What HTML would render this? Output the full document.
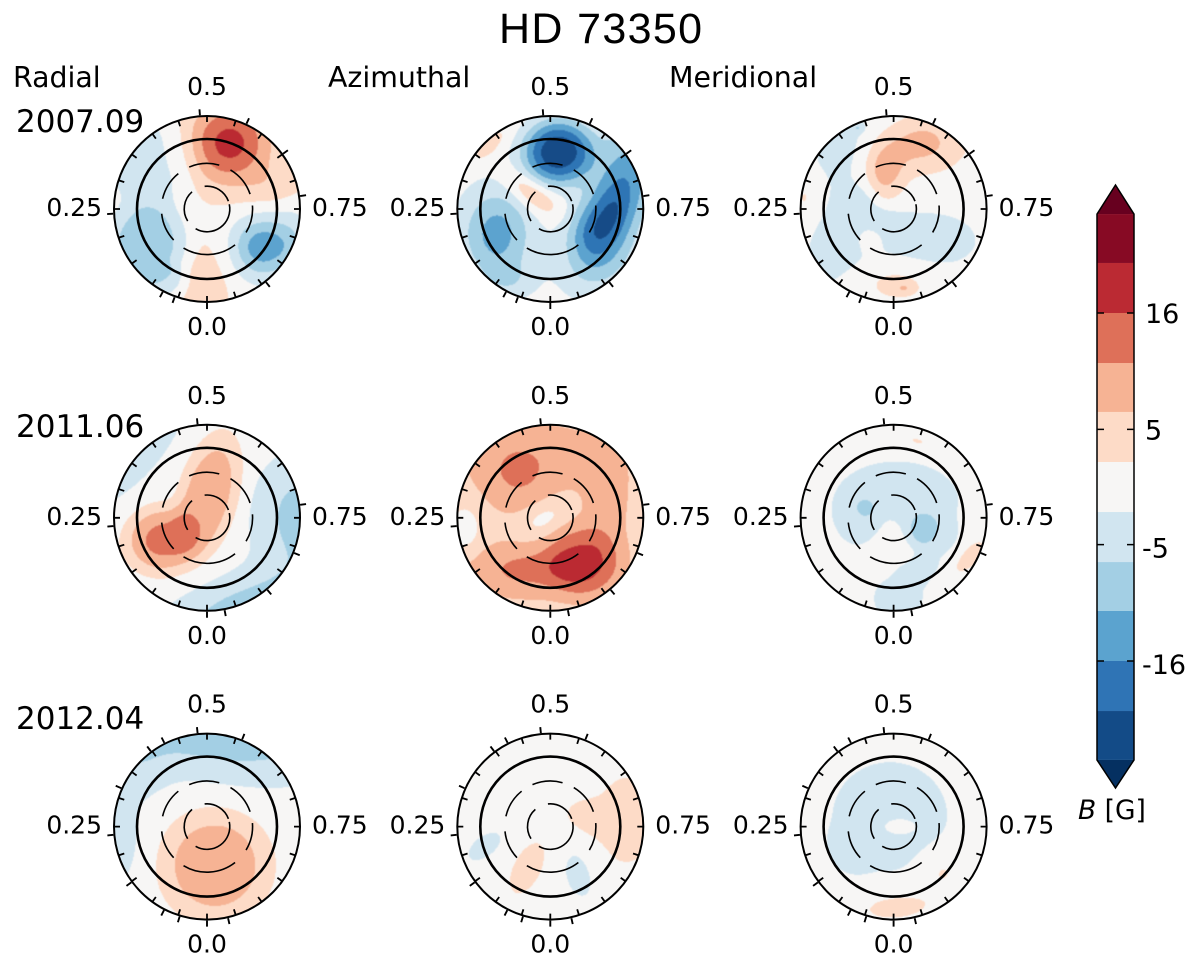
<!DOCTYPE html>
<html lang="en">
<head>
<meta charset="utf-8">
<title>HD 73350 magnetic maps</title>
<style>
html,body{margin:0;padding:0;background:#fff;}
svg{display:block;}
text{font-family:"DejaVu Sans","Liberation Sans",sans-serif;fill:#000;}
</style>
</head>
<body>
<svg id="chart" xmlns="http://www.w3.org/2000/svg" width="1200" height="978" viewBox="0 0 1200 978">
  <defs>
    <filter id="soften" x="-5%" y="-5%" width="110%" height="110%"><feGaussianBlur stdDeviation="0.6"/></filter>
  </defs>
  <rect width="1200" height="978" fill="#ffffff"/>
  <text x="499" y="43" font-size="43" textLength="203" lengthAdjust="spacing" style="font-family:'Liberation Sans',sans-serif">HD 73350</text>
  <text x="13" y="87" font-size="28.4">Radial</text>
  <text x="328" y="87" font-size="28.4">Azimuthal</text>
  <text x="669" y="87" font-size="28.4">Meridional</text>
  <text x="16" y="132" font-size="31">2007.09</text>
  <text x="16" y="437" font-size="31">2011.06</text>
  <text x="16" y="729" font-size="31">2012.04</text>
  <text x="1078" y="819" font-size="26.5"><tspan font-style="italic">B</tspan> [G]</text>
  <g id="panels"></g>
  <g id="colorbar"></g>
</svg>
<script>
// ---- data ----
// Contour levels of the field in gauss (ascending)
const fieldLevels = [-25.1, -20.6, -16, -11.4, -6.9, -2.3, 2.3, 6.9, 11.4, 16, 20.6, 25.1];
// Colour bar tick values and their printed labels
const colorbarTickValues = [16, 5.3, -5.3, -16];
const colorbarTickLabels = ['16', '5', '-5', '-16'];
// Phase axis labels
const phaseTickValues = [0.5, 0.25, 0.75, 0.0];
const phaseTickLabels = ['0.5', '0.25', '0.75', '0.0'];
// Observed rotation phases per epoch (outward ticks)
const obsPhases2007 = [0.488, 0.569, 0.65, 0.728, 0.892, 0, 0.056, 0.078, 0.242];
const obsPhases2011 = [0.484, 0.728, 0.811, 0.889, 0.97, 0, 0.236];
const obsPhases2012 = [0.484, 0.561, 0.425, 0.398, 0.317, 0.236, 0.149, 0.0756, 0.047, 0, 0.964];
// Field components as spots: [mapX, mapY, widthA, widthB, tiltDeg, gauss, sharpness]
// (map units: the rim of the disc is 280 from the pole)
const radial2007 = [
  [68,-198,127,127,0,18],[165,114,88,88,0,-14.5],[-180,104,120,120,0,-9,4],
  [-170,-136,135,155,0,-4,4],[-130,215,70,50,0,-4,4],[-2,250,80,180,0,5],[215,-70,100,60,-15,4],
  [255,95,55,90,0,-4]
];
const azimuthal2007 = [
  [24,-171,105,95,0,-24,2.6],[175,25,85,160,25,-21],[240,-170,100,120,0,-7.5],[170,170,130,110,0,-4],
  [-161,75,105,135,0,-13.5],[-181,-191,30,80,45,4],[-56,-46,40,92,-54,8],[95,60,60,70,0,-2.5],[-120,215,80,55,0,-4]
];
const meridional2007 = [
  [-111,-206,95,190,63,-3.5],[-109,-244,18,14,0,-5],[75,-200,125,85,0,9.2],[-30,-110,60,90,0,9.5],
  [-265,-35,45,70,0,3.5],[10,222,115,60,0,4.2],[31,238,25,15,0,4.5],[-165,85,105,190,18,-4],
  [105,95,190,110,0,-4],[-40,35,70,40,0,-3.5],[-90,-20,50,60,0,-3],[-75,80,40,50,0,3.5]
];
const radial2011 = [
  [6,-70,92,190,14,9,4],[-135,67,110,100,0,12.5,3],[-220,-190,92,270,42,-4],[284,-3,135,175,0,-9],[100,280,260,100,-20,-9]
];
const azimuthal2011 = [
  [0,0,900,900,0,5.5],[-40,-190,240,110,0,3.5],[170,-50,70,170,0,3.5],[-101,-125,100,100,0,5],
  [99,132,110,105,0,10,3],[-71,157,170,75,0,7.5],[-21,2,75,42,-30,-5],[-256,32,45,70,0,-6]
];
const meridional2011 = [
  [9,-53,215,135,0,-4,4],[-110,10,70,90,0,-2.5,4],[130,70,80,80,0,-2.6,4],[14,240,85,90,0,-4,4],[70,160,70,50,0,-3,4],
  [-15,80,55,90,0,3],[86,35,52,60,0,-4,4],[-84,-31,24,24,0,-3.5,4],[229,117,35,75,45,4],[71,-231,32,12,15,3]
];
const radial2012 = [
  [29,-310,350,140,10,-12],[-300,30,100,180,0,-5],[-210,-190,100,100,0,-4],[24,117,170,170,0,9,4]
];
const azimuthal2012 = [
  [229,-20,110,170,0,4],[109,-30,75,50,15,3.5],[-69,125,55,110,27,4],[-198,60,75,40,-37,-4],[86,145,52,92,-15,-4]
];
const meridional2012 = [
  [-11,-30,200,190,0,-4,4],[-130,70,80,85,0,-2.2,4],[140,130,70,70,0,3],[19,0,52,26,0,3.5],[9,243,108,40,-5,4]
];
const epochNames = ['2007', '2011', '2012'];
const componentNames = ['radial', 'azimuthal', 'meridional'];
const panelSpots = [
  [radial2007, azimuthal2007, meridional2007],
  [radial2011, azimuthal2011, meridional2011],
  [radial2012, azimuthal2012, meridional2012]
];
const panelObs = [obsPhases2007, obsPhases2011, obsPhases2012];

// ---- styling / layout ----
const bandColors = ['#053061','#134b87','#2f74b5','#5ba3cf','#a3cfe4','#d1e5f0','#f7f6f5','#fddbc7','#f6b394','#de7059','#bb2a33','#870a24','#67001f'];
const NS = 'http://www.w3.org/2000/svg';
const colX = i => 207 + i * 343.3;
const rowY = j => 209 + j * 308.8;
const RIM = 93;
const MAP_RIM = 280;
const COLAT_PX = RIM / 120;
const dashArcs60 = [[-23,15.6],[31,71],[85.6,121],[142,211],[227,264],[283,321]];
const dashArcs30 = [[-6,70],[78,210],[238,319]];

function mk(tag, attrs, parent) {
  const e = document.createElementNS(NS, tag);
  for (const k in attrs) e.setAttribute(k, attrs[k]);
  parent.appendChild(e);
  return e;
}
// phase axis: 0 at the bottom, running clockwise (0.25 left, 0.5 top, 0.75 right)
function phasePoint(cx, cy, phase, r) {
  const t = 2 * Math.PI * phase;
  return [cx - r * Math.sin(t), cy + r * Math.cos(t)];
}
function fieldAt(spots, u, v) {
  let sum = 0;
  for (const s of spots) {
    const rot = s[4] * Math.PI / 180;
    const c = Math.cos(rot), d = Math.sin(rot);
    const dx = u - s[0], dy = v - s[1];
    const a = (dx * c + dy * d) / s[2];
    const b = (-dx * d + dy * c) / s[3];
    const k = s[6] || 2;
    sum += s[5] * Math.exp(-Math.pow(a * a + b * b, k / 2));
  }
  return sum;
}
function bandOf(val) {
  let i = 0;
  while (i < fieldLevels.length && val >= fieldLevels[i]) i++;
  return i;
}
function arcPath(cx, cy, r, a0, a1) {
  const t0 = a0 * Math.PI / 180, t1 = a1 * Math.PI / 180;
  const large = (a1 - a0) > 180 ? 1 : 0;
  return 'M' + (cx + r * Math.sin(t0)).toFixed(2) + ' ' + (cy - r * Math.cos(t0)).toFixed(2) +
    'A' + r + ' ' + r + ' 0 ' + large + ' 1 ' + (cx + r * Math.sin(t1)).toFixed(2) + ' ' + (cy - r * Math.cos(t1)).toFixed(2);
}

const panelsRoot = document.getElementById('panels');
const defs = document.querySelector('defs');

for (let j = 0; j < 3; j++) {
  for (let i = 0; i < 3; i++) {
    const cx = colX(i), cy = rowY(j);
    const id = componentNames[i] + '-' + epochNames[j];
    const g = mk('g', {}, panelsRoot);
    
    

    const clip = mk('clipPath', { id: 'clip-' + id }, defs);
    mk('circle', { cx: cx, cy: cy, r: RIM }, clip);

    const disc = mk('circle', { cx: cx, cy: cy, r: RIM, fill: bandColors[6] }, g);
    
    

    // contour bands from the field, built row by row
    const clipG = mk('g', { 'clip-path': 'url(#clip-' + id + ')' }, g);
    const bandG = mk('g', { filter: 'url(#soften)' }, clipG);
    const paths = bandColors.map(() => '');
    const x0 = Math.floor(cx - RIM - 2), x1 = Math.ceil(cx + RIM + 2);
    const y0 = Math.floor(cy - RIM - 2), y1 = Math.ceil(cy + RIM + 2);
    const spots = panelSpots[j][i];
    for (let y = y0; y < y1; y++) {
      let start = x0, cur = -1;
      for (let x = x0; x <= x1; x++) {
        const b = x < x1 ? bandOf(fieldAt(spots, (x + 0.5 - cx) * MAP_RIM / RIM, (y + 0.5 - cy) * MAP_RIM / RIM)) : -2;
        if (b !== cur) {
          if (cur >= 0 && cur !== 6) paths[cur] += 'M' + start + ' ' + y + 'h' + (x - start) + 'v1h' + (start - x) + 'z';
          start = x; cur = b;
        }
      }
    }
    paths.forEach((d, b) => {
      if (!d) return;
      const p = mk('path', { d: d, fill: bandColors[b], 'shape-rendering': 'crispEdges' }, bandG);
      
      
    });

    // colatitude rings
    [[30, dashArcs30], [60, dashArcs60]].forEach(pair => {
      const r = pair[0] * COLAT_PX * 0.98;
      let d = '';
      pair[1].forEach(a => { d += arcPath(cx, cy, r, a[0], a[1]); });
      const ring = mk('path', { d: d, fill: 'none', stroke: '#000', 'stroke-width': 1.6 }, g);
      
      
    });
    const eq = mk('circle', { cx: cx, cy: cy, r: 70, fill: 'none', stroke: '#000', 'stroke-width': 2.6 }, g);
    
    
    const rim = mk('circle', { cx: cx, cy: cy, r: RIM, fill: 'none', stroke: '#000', 'stroke-width': 2 }, g);
    
    

    // inward phase ticks every 0.05
    let td = '';
    for (let n = 0; n < 20; n++) {
      const a = phasePoint(cx, cy, n / 20, RIM);
      const b = phasePoint(cx, cy, n / 20, RIM - 6);
      td += 'M' + a[0].toFixed(2) + ' ' + a[1].toFixed(2) + 'L' + b[0].toFixed(2) + ' ' + b[1].toFixed(2);
    }
    const ticks = mk('path', { d: td, stroke: '#000', 'stroke-width': 1.8, fill: 'none' }, g);
    
    

    // outward ticks at the observed phases
    let od = '';
    panelObs[j].forEach(ph => {
      const a = phasePoint(cx, cy, ph, RIM + 1);
      const b = phasePoint(cx, cy, ph, RIM + 7);
      od += 'M' + a[0].toFixed(2) + ' ' + a[1].toFixed(2) + 'L' + b[0].toFixed(2) + ' ' + b[1].toFixed(2);
    });
    const obs = mk('path', { d: od, stroke: '#000', 'stroke-width': 1.9, fill: 'none' }, g);
    
    

    // phase labels
    phaseTickValues.forEach((ph, n) => {
      const p = phasePoint(cx, cy, ph, 105);
      let anchor = 'middle', ty;
      if (ph === 0.5) ty = cy - 114;
      else if (ph === 0) ty = cy + 126;
      else { anchor = ph === 0.25 ? 'end' : 'start'; ty = cy + 7; }
      const label = mk('text', { x: p[0].toFixed(1), y: ty, 'font-size': 25, 'text-anchor': anchor }, g);
      label.textContent = phaseTickLabels[n];
      
      
    });
  }
}

// ---- colour bar ----
const cb = document.getElementById('colorbar');
const CB_L = 1097, CB_R = 1134, CB_TIP_TOP = 185, CB_TIP_BOTTOM = 788;
const cbY = v => 487 - v * 10.875;
for (let b = 1; b < bandColors.length - 1; b++) {
  const top = cbY(fieldLevels[b]), bottom = cbY(fieldLevels[b - 1]);
  const r = mk('rect', { x: CB_L, y: top.toFixed(2), width: CB_R - CB_L, height: (bottom - top).toFixed(2), fill: bandColors[b] }, cb);
  
  
}
const cbMid = (CB_L + CB_R) / 2;
const cbTop = cbY(fieldLevels[fieldLevels.length - 1]), cbBottom = cbY(fieldLevels[0]);
const tipUp = mk('polygon', { points: CB_L + ',' + cbTop + ' ' + cbMid + ',' + CB_TIP_TOP + ' ' + CB_R + ',' + cbTop, fill: bandColors[12] }, cb);


const tipDown = mk('polygon', { points: CB_L + ',' + cbBottom + ' ' + cbMid + ',' + CB_TIP_BOTTOM + ' ' + CB_R + ',' + cbBottom, fill: bandColors[0] }, cb);


const outline = mk('polygon', {
  points: [[cbMid, CB_TIP_TOP], [CB_R, cbTop], [CB_R, cbBottom], [cbMid, CB_TIP_BOTTOM], [CB_L, cbBottom], [CB_L, cbTop]].map(p => p.join(',')).join(' '),
  fill: 'none', stroke: '#000', 'stroke-width': 1.5
}, cb);


colorbarTickValues.forEach((v, n) => {
  const y = cbY(v);
  const t = mk('path', { d: 'M' + CB_L + ' ' + y + 'h7M' + CB_R + ' ' + y + 'h-7', stroke: '#000', 'stroke-width': 1.5 }, cb);
  
  
  const label = mk('text', { x: colorbarTickLabels[n][0] === '-' ? 1142 : 1145, y: y + 10 + (v < 0 ? 3 : 0), 'font-size': 27 }, cb);
  label.textContent = colorbarTickLabels[n];
  
  
});
</script>
</body>
</html>
